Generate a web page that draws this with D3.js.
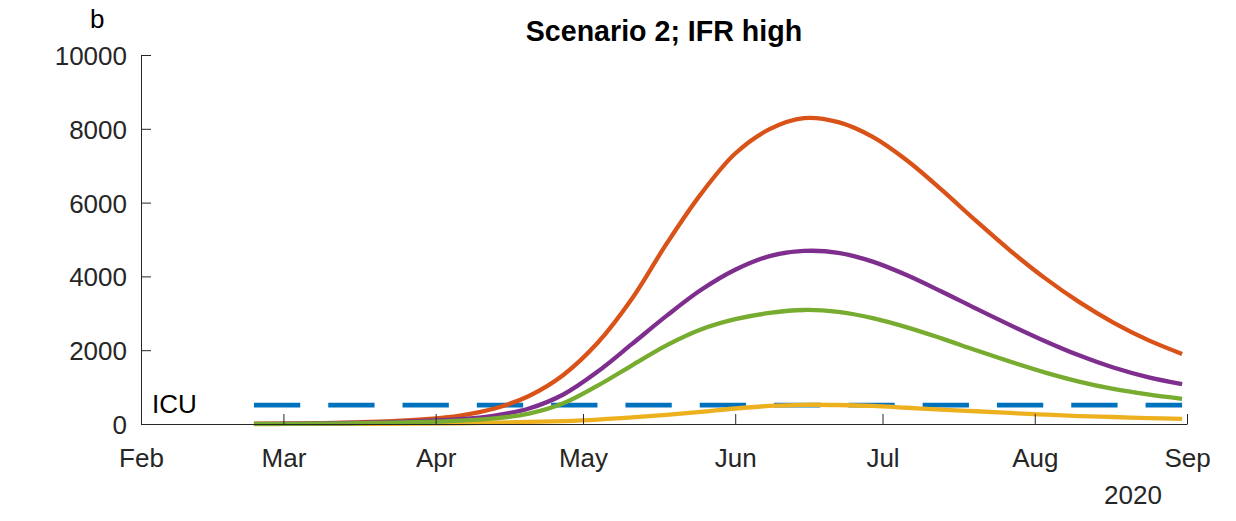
<!DOCTYPE html>
<html>
<head>
<meta charset="utf-8">
<script src="https://cdn.jsdelivr.net/npm/d3@7"></script>
<style>
  html, body { margin: 0; padding: 0; background: #fff; }
  svg { display: block; font-family: "Liberation Sans", Arial, Helvetica, sans-serif; }
</style>
</head>
<body>
<svg id="chart" width="1236" height="521"></svg>
<script>
// ---- data ----
const dates = ["2020-02-24","2020-03-02","2020-03-09","2020-03-16","2020-03-23","2020-03-30",
  "2020-04-06","2020-04-13","2020-04-20","2020-04-27","2020-05-04","2020-05-11","2020-05-18",
  "2020-05-25","2020-06-01","2020-06-08","2020-06-15","2020-06-22","2020-06-29","2020-07-06",
  "2020-07-13","2020-07-20","2020-07-27","2020-08-03","2020-08-10","2020-08-17","2020-08-24","2020-08-31"];
const orangeValues = [5,12,25,45,75,130,230,420,760,1330,2200,3400,4880,6230,7330,7990,8290,8180,7780,7140,6350,5510,4700,3960,3310,2750,2280,1900];
const yellowValues = [0,1,2,4,7,12,20,35,55,80,120,180,250,330,420,490,520,515,490,440,390,345,300,255,215,190,160,140];
const purpleValues = [3,8,16,30,50,85,130,230,420,800,1420,2170,2930,3630,4180,4550,4690,4640,4400,4030,3590,3130,2680,2250,1860,1530,1270,1080];
const greenValues  = [2,5,11,20,35,55,90,150,280,560,1040,1590,2130,2560,2840,3010,3090,3040,2870,2620,2320,2000,1690,1400,1150,950,800,680];
const icuValue = 510;
const icuLabel = "ICU";
const xTickDates = ["2020-02-01","2020-03-01","2020-04-01","2020-05-01","2020-06-01","2020-07-01","2020-08-01","2020-09-01"];
const yTickValues = [0,2000,4000,6000,8000,10000];
const titleText = "Scenario 2; IFR high";
const panelLabel = "b";
const yearLabel = "2020";

(function () {
// ---- setup ----
const parse = d3.timeParse("%Y-%m-%d");
const svg = d3.select("#chart");
svg.append("rect").attr("width", 1236).attr("height", 521).attr("fill", "#fff");

const mLeft = 141, mRight = 1187, mTop = 55, mBottom = 424;
const x = d3.scaleTime().domain([parse("2020-02-01"), parse("2020-09-01")]).range([mLeft, mRight]);
const y = d3.scaleLinear().domain([0, 10000]).range([mBottom, mTop]);

const axisColor = "#262626";
const fontSize = 26;

// ---- series ----
const series = [
  { values: dates.map(() => icuValue), color: "#0072BD", dash: "46.3,28", width: 4.8 },
  { values: orangeValues, color: "#D95319", width: 4.3 },
  { values: yellowValues, color: "#EDB120", width: 4.3 },
  { values: purpleValues, color: "#7E2F8E", width: 4.3 },
  { values: greenValues, color: "#77AC30", width: 4.3 }
];
const smooth = d3.line()
  .x(d => x(d.date))
  .y(d => y(Math.max(0, d.value)))
  .curve(d3.curveCatmullRom.alpha(0.5));
const straight = d3.line()
  .x(d => x(d.date))
  .y(d => y(d.value));

const plot = svg.append("g");
series.forEach(s => {
  const pts = dates.map((dt, i) => ({ date: parse(dt), value: s.values[i] }));
  plot.append("path")
    .datum(pts)
    .attr("d", s.dash ? straight(pts) : smooth(pts))
    .attr("fill", "none")
    .attr("stroke", s.color)
    .attr("stroke-width", s.width)
    .attr("stroke-dasharray", s.dash || null)
    .attr("stroke-linejoin", "round")
    .attr("stroke-linecap", "butt");
});

// ---- axes ----
const xAxis = d3.axisBottom(x)
  .tickValues(xTickDates.map(parse))
  .tickFormat(d3.timeFormat("%b"))
  .tickSize(-10)
  .tickSizeOuter(0)
  .tickPadding(0);
const gx = svg.append("g").attr("transform", `translate(0,${mBottom})`).call(xAxis);
gx.select(".domain").attr("stroke", axisColor).attr("stroke-width", 1);
gx.selectAll(".tick line").attr("stroke", axisColor).attr("stroke-width", 1);
gx.selectAll(".tick text")
  .attr("y", 43).attr("dy", null)
  .attr("fill", axisColor)
  .style("font-size", fontSize + "px")
  .style("font-family", "'Liberation Sans', Arial, Helvetica, sans-serif");

const yAxis = d3.axisLeft(y)
  .tickValues(yTickValues)
  .tickFormat(d3.format("d"))
  .tickSize(-10)
  .tickSizeOuter(0)
  .tickPadding(14);
const gy = svg.append("g").attr("transform", `translate(${mLeft},0)`).call(yAxis);
gy.select(".domain").attr("stroke", axisColor).attr("stroke-width", 1);
gy.selectAll(".tick line").attr("stroke", axisColor).attr("stroke-width", 1);
gy.selectAll(".tick text")
  .attr("dy", "9.5")
  .attr("fill", axisColor)
  .style("font-size", fontSize + "px")
  .style("font-family", "'Liberation Sans', Arial, Helvetica, sans-serif");

// ---- texts ----
svg.append("text")
  .attr("x", (mLeft + mRight) / 2).attr("y", 41)
  .attr("text-anchor", "middle")
  .attr("font-weight", "bold")
  .attr("font-size", 28.6)
  .attr("fill", "#000")
  .text(titleText);

svg.append("text")
  .attr("x", 90).attr("y", 28)
  .attr("font-size", fontSize)
  .attr("fill", "#000")
  .text(panelLabel);

svg.append("text")
  .attr("x", 1133).attr("y", 504)
  .attr("text-anchor", "middle")
  .attr("font-size", fontSize)
  .attr("fill", axisColor)
  .text(yearLabel);

svg.append("text")
  .attr("x", 152).attr("y", 413)
  .attr("font-size", fontSize)
  .attr("fill", "#000")
  .text(icuLabel);
})();
</script>
</body>
</html>
